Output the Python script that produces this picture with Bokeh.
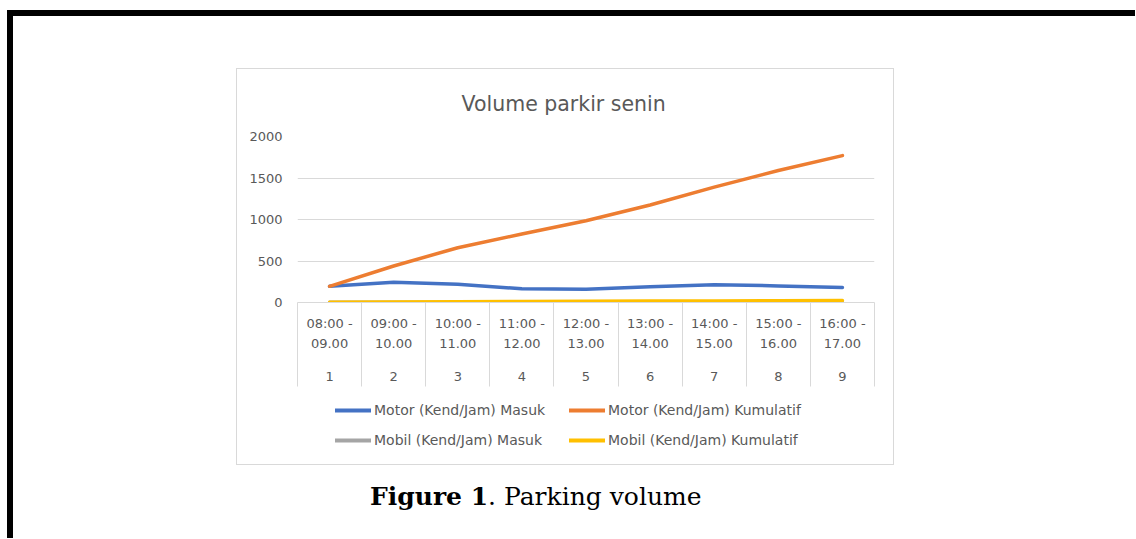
from bokeh.plotting import figure
from bokeh.models import (Range1d, FixedTicker, LinearAxis, Legend, LegendItem,
                          Div, Spacer)
from bokeh.layouts import column, row
from bokeh.embed import file_html
from bokeh.resources import INLINE

# ---- data ----
periods = ["08:00 -\n09.00", "09:00 -\n10.00", "10:00 -\n11.00", "11:00 -\n12.00",
           "12:00 -\n13.00", "13:00 -\n14.00", "14:00 -\n15.00", "15:00 -\n16.00",
           "16:00 -\n17.00"]
numbers = ["1", "2", "3", "4", "5", "6", "7", "8", "9"]
motor_masuk = [195, 245, 220, 165, 160, 190, 215, 200, 180]
motor_kumulatif = [195, 440, 660, 825, 985, 1175, 1390, 1590, 1770]
mobil_masuk = [3, 2, 4, 3, 2, 3, 2, 3, 2]
mobil_kumulatif = [3, 5, 9, 12, 14, 17, 19, 22, 24]
y_ticks = [0, 500, 1000, 1500, 2000]
title = "Volume parkir senin"
legend_labels = ["Motor (Kend/Jam) Masuk", "Motor (Kend/Jam) Kumulatif",
                 "Mobil (Kend/Jam) Masuk", "Mobil (Kend/Jam) Kumulatif"]
colors = ["#4472C4", "#ED7D31", "#A5A5A5", "#FFC000"]

TXT = "#595959"
GRID = "#d9d9d9"
FONT = "DejaVu Sans"

# chart part of the chart box (page 236..894 x 68..392)
CW, CH = 658, 324
FL, FR, FT, FB = 61, 638, 68, 234     # plotting frame inside the chart box
LH = 73                               # legend strip (page 392..465)

xs = list(range(1, len(periods) + 1))
bounds = [x - 0.5 for x in xs] + [xs[-1] + 0.5]

p = figure(width=CW, height=CH, output_backend="svg", toolbar_location=None,
           x_range=Range1d(0.5, len(periods) + 0.5), y_range=Range1d(0, 2000),
           min_border_left=FL, min_border_right=CW - FR,
           min_border_top=FT, min_border_bottom=CH - FB,
           x_axis_location=None, y_axis_location=None, margin=0)
p.outline_line_color = None
p.border_fill_alpha = 0

p.title.text = title
p.title.align = "left"
p.title.offset = 461 - 236 - FL
p.title.text_font = FONT
p.title.text_font_size = "20.5px"
p.title.text_font_style = "normal"
p.title.text_color = TXT
p.title.standoff = 42

# y axis
yax = LinearAxis(ticker=FixedTicker(ticks=y_ticks))
yax.axis_line_color = None
yax.major_tick_line_color = None
yax.major_tick_out = 0
yax.minor_tick_line_color = None
yax.major_label_text_color = TXT
yax.major_label_text_font = FONT
yax.major_label_text_font_size = "13px"
yax.major_label_standoff = 15
p.add_layout(yax, "left")

# x axis 1: time periods, minor ticks as category separators
xax = LinearAxis(ticker=FixedTicker(ticks=xs, minor_ticks=bounds))
xax.major_label_overrides = {x: lab for x, lab in zip(xs, periods)}
xax.axis_line_color = GRID
xax.major_tick_line_color = None
xax.major_tick_out = 0
xax.major_tick_in = 0
xax.minor_tick_line_color = GRID
xax.minor_tick_out = 84
xax.minor_tick_in = 0
xax.major_label_text_color = TXT
xax.major_label_text_font = FONT
xax.major_label_text_font_size = "13px"
xax.major_label_text_line_height = 1.35
xax.major_label_standoff = 13 - 84
p.add_layout(xax, "below")

# x axis 2: sequence numbers
xax2 = LinearAxis(ticker=FixedTicker(ticks=xs))
xax2.major_label_overrides = {x: lab for x, lab in zip(xs, numbers)}
xax2.axis_line_color = None
xax2.major_tick_line_color = None
xax2.major_tick_out = 0
xax2.minor_tick_line_color = None
xax2.major_label_text_color = TXT
xax2.major_label_text_font = FONT
xax2.major_label_text_font_size = "13px"
xax2.major_label_standoff = 18
p.add_layout(xax2, "below")

p.xgrid.visible = False
p.ygrid.ticker = FixedTicker(ticks=y_ticks)
p.ygrid.grid_line_color = GRID

series = [motor_masuk, motor_kumulatif, mobil_masuk, mobil_kumulatif]
for s, c in zip(series, colors):
    p.line(xs, s, line_width=3.5, line_color=c, line_cap="round", line_join="round")

# legend strip (keys share the styles of the series lines; they plot nothing)
pl = figure(width=CW, height=LH, output_backend="svg", toolbar_location=None,
            x_range=Range1d(0, 1), y_range=Range1d(0, 1),
            min_border_left=0, min_border_right=0, min_border_top=0, min_border_bottom=0,
            x_axis_location=None, y_axis_location=None, margin=0)
pl.outline_line_color = None
pl.border_fill_alpha = 0
pl.background_fill_alpha = 0
pl.grid.visible = False
nan = float("nan")
lrends = [pl.line([nan], [nan], line_width=4, line_color=c, line_cap="round") for c in colors]
legend = Legend(items=[LegendItem(label=l, renderers=[r]) for l, r in zip(legend_labels, lrends)],
                orientation="horizontal", ncols=2, location=(335 - 297, LH - 63),
                padding=0, margin=0, spacing=0,
                glyph_width=36, glyph_height=30, label_height=30, label_width=195,
                label_standoff=3, border_line_color=None,
                background_fill_alpha=0, label_text_color=TXT,
                label_text_font=FONT, label_text_font_size="14px")
pl.add_layout(legend, "center")

chart = column(p, pl, margin=0,
               styles={"outline": "1px solid #d9d9d9", "outline-offset": "-1px"})


def bar(w, h):
    return Div(text="", width=w, height=h, margin=0,
               styles={"background-color": "#000"})


caption = Div(text='<div style="padding-left:357px;padding-top:17px;'
                   'font-family:\'DejaVu Serif\';font-size:25px;color:#000;'
                   'white-space:nowrap;line-height:1.2"><b>Figure 1</b>. Parking volume</div>',
              width=1122, height=73, margin=0)

content = column(Spacer(height=52, margin=0), row(Spacer(width=223, margin=0), chart, margin=0),
                 caption, margin=0)
root = column(Spacer(height=10, margin=0),
              row(Spacer(width=7, margin=0), bar(1128, 6), margin=0),
              row(Spacer(width=7, margin=0), bar(6, 522), content, margin=0),
              margin=0)

open("out.html", "w").write(file_html(root, INLINE))
